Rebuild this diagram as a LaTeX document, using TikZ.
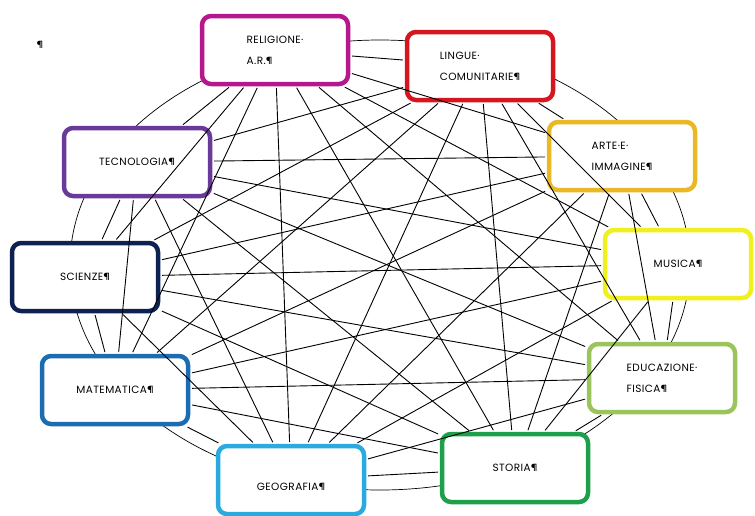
\documentclass[tikz,border=0pt]{standalone}
\usepackage{fontspec}
\setmainfont{Poppins}[LetterSpace=4]
\definecolor{cRel}{RGB}{180,24,140}
\definecolor{cLin}{RGB}{214,22,30}
\definecolor{cArt}{RGB}{234,184,36}
\definecolor{cMus}{RGB}{240,240,30}
\definecolor{cEdu}{RGB}{155,196,92}
\definecolor{cSto}{RGB}{30,160,74}
\definecolor{cGeo}{RGB}{42,170,222}
\definecolor{cMat}{RGB}{28,108,178}
\definecolor{cSci}{RGB}{14,34,82}
\definecolor{cTec}{RGB}{106,58,154}
\tikzset{materia/.style={draw=#1, fill=white, line width=4.5pt, rounded corners=9pt,
		minimum width=146pt, minimum height=68pt, align=left, inner sep=2pt}}
\begin{document}
\begin{tikzpicture}[x=1pt,y=-1pt,font=\fontsize{10.5}{21}\selectfont, line join=round, line cap=round]
	\useasboundingbox (0,0) rectangle (755,515);
	%%Ellisse di sfondo
	\draw[line width=0.7pt] (380,265) ellipse [x radius=310, y radius=225];
	%%Materie
	\node[materia=cRel] (rel) at (275,50) {RELIGIONE·\\A.R.¶};
	\node[materia=cLin] (lin) at (480,66) {LINGUE·\\COMUNITARIE¶};
	\node[materia=cArt] (art) at (622,156) {ARTE·E·\\IMMAGINE¶};
	\node[materia=cMus] (mus) at (678,264) {MUSICA¶};
	\node[materia=cEdu] (edu) at (662,378) {EDUCAZIONE·\\FISICA¶};
	\node[materia=cSto] (sto) at (515,468) {STORIA¶};
	\node[materia=cGeo, text height=22pt, text depth=2pt] (geo) at (291,480) {GEOGRAFIA¶};
	\node[materia=cMat] (mat) at (115,390) {MATEMATICA¶};
	\node[materia=cSci] (sci) at (85,277) {SCIENZE¶};
	\node[materia=cTec] (tec) at (137,162) {TECNOLOGIA¶};
	\node (pil) at (40,45) {¶};
	%%Collegamenti
	\foreach [count=\i] \a in {rel,lin,art,mus,edu,sto,geo,mat,sci,tec}
		\foreach [count=\j] \b in {rel,lin,art,mus,edu,sto,geo,mat,sci,tec}
			{\ifnum\i<\j \draw[line width=0.9pt, shorten <=2pt, shorten >=2pt] (\a)--(\b); \fi}
\end{tikzpicture}
\end{document}
